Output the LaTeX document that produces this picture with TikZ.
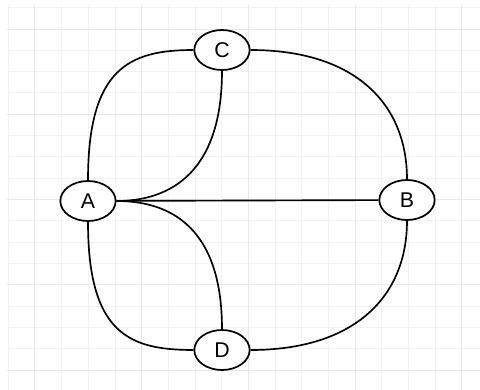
\documentclass[tikz,border=0pt]{standalone}
\usepackage{fontspec}
\setmainfont{Liberation Sans}
\usetikzlibrary{shapes.geometric}
\begin{document}
\begin{tikzpicture}[x=0.75pt,y=-0.75pt,
  vnode/.style={ellipse, draw, line width=1.3pt, fill=white, inner sep=0pt,
    minimum width=41.5pt, minimum height=30pt, font=\fontsize{16}{18}\selectfont},
  edge/.style={draw, line width=1.25pt, black},
  minorgrid/.style={draw=black!5, line width=0.75pt},
  majorgrid/.style={draw=black!9, line width=0.75pt}]
\useasboundingbox (0,0) rectangle (480,390);
\fill[white] (0,0) rectangle (480,390);
% grid
\foreach \k in {-1,...,16}{
  \pgfmathsetmacro{\xx}{35+26.6875*\k}
  \draw[minorgrid] (\xx,5) -- (\xx,390);
}
\foreach \k in {-1,...,16}{
  \pgfmathsetmacro{\yy}{29+21.3125*\k}
  \draw[minorgrid] (7,\yy) -- (480,\yy);
}
\foreach \k in {0,4,8,12,16}{
  \pgfmathsetmacro{\xx}{35+26.6875*\k}
  \draw[majorgrid] (\xx,5) -- (\xx,390);
  \pgfmathsetmacro{\yy}{29+21.3125*\k}
  \draw[majorgrid] (7,\yy) -- (480,\yy);
}
% nodes
\node[vnode] (C) at (222,50) {C};
\node[vnode] (A) at (88,201) {A};
\node[vnode] (B) at (407,200) {B};
\node[vnode] (D) at (222,350) {D};
% edges
\path[edge] (A.north) .. controls +(0,-112) and +(-64,0) .. (C.west);
\path[edge] (C.south) .. controls +(0,110) and +(45,0) .. (A.east);
\path[edge] (A.east) .. controls +(45,0) and +(0,-110) .. (D.north);
\path[edge] (A.south) .. controls +(0,112) and +(-64,0) .. (D.west);
\path[edge] (C.east) .. controls +(105,0) and +(0,-75) .. (B.north);
\path[edge] (D.east) .. controls +(105,0) and +(0,75) .. (B.south);
\path[edge] (A) -- (B);
\end{tikzpicture}
\end{document}
